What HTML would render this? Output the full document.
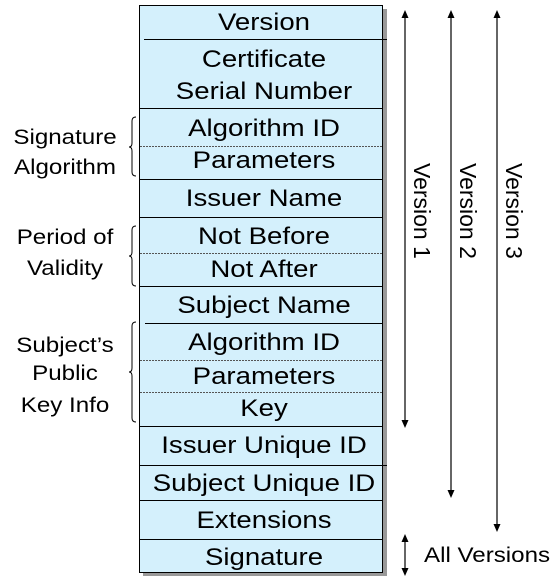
<!DOCTYPE html>
<html><head><meta charset="utf-8"><style>
html,body{margin:0;padding:0;background:#fff;}
svg{display:block;}
text{font-family:"Liberation Sans",Arial,sans-serif;fill:#000;}
</style></head><body>
<svg width="558" height="578" viewBox="0 0 558 578" xmlns="http://www.w3.org/2000/svg">
<rect x="143" y="9" width="244" height="567" fill="#999"/>
<rect x="139.5" y="5.5" width="243" height="567" fill="#d4f0fc" stroke="#000" stroke-width="1"/>
<g stroke="#000" stroke-width="1">
<line x1="144" y1="39.5" x2="387" y2="39.5"/>
<line x1="140" y1="108.5" x2="382" y2="108.5"/>
<line x1="140" y1="146.5" x2="382" y2="146.5" stroke-dasharray="2,1" stroke="#555"/>
<line x1="140" y1="179.5" x2="382" y2="179.5"/>
<line x1="140" y1="217.5" x2="382" y2="217.5"/>
<line x1="140" y1="253.5" x2="382" y2="253.5" stroke-dasharray="2,1" stroke="#555"/>
<line x1="140" y1="286.5" x2="382" y2="286.5"/>
<line x1="145" y1="323.5" x2="382" y2="323.5"/>
<line x1="140" y1="360.5" x2="382" y2="360.5" stroke-dasharray="2,1" stroke="#555"/>
<line x1="140" y1="392.5" x2="382" y2="392.5" stroke-dasharray="2,1" stroke="#555"/>
<line x1="140" y1="426.5" x2="382" y2="426.5"/>
<line x1="140" y1="465.5" x2="387" y2="465.5"/>
<line x1="140" y1="500.5" x2="382" y2="500.5"/>
<line x1="140" y1="539.5" x2="382" y2="539.5"/>
</g>
<g transform="translate(264,0) scale(1.15,1)" font-size="24" text-anchor="middle">
<text x="0" y="30">Version</text>
<text x="0" y="67">Certificate</text>
<text x="0" y="99">Serial Number</text>
<text x="0" y="136">Algorithm ID</text>
<text x="0" y="168">Parameters</text>
<text x="0" y="206">Issuer Name</text>
<text x="0" y="244">Not Before</text>
<text x="0" y="277">Not After</text>
<text x="0" y="313">Subject Name</text>
<text x="0" y="350">Algorithm ID</text>
<text x="0" y="384">Parameters</text>
<text x="0" y="416">Key</text>
<text x="0" y="453">Issuer Unique ID</text>
<text x="0" y="491">Subject Unique ID</text>
<text x="0" y="528">Extensions</text>
<text x="0" y="565">Signature</text>
</g>
<g transform="translate(65,0) scale(1.15,1)" font-size="21" text-anchor="middle">
<text x="0" y="144">Signature</text>
<text x="0" y="174">Algorithm</text>
<text x="0" y="244">Period of</text>
<text x="0" y="275">Validity</text>
<text x="0" y="352">Subject’s</text>
<text x="0" y="380">Public</text>
<text x="0" y="412">Key Info</text>
</g>
<g fill="none" stroke="#000" stroke-width="1">
<path d="M136,117 Q132,117 132,121 L132,143 Q132,147 129,147 Q132,147 132,151 L132,172 Q132,176 136,176"/>
<path d="M136,226 Q132,226 132,230 L132,252 Q132,256 129,256 Q132,256 132,260 L132,282 Q132,286 136,286"/>
<path d="M136,322 Q132,322 132,326 L132,368 Q132,372 129,372 Q132,372 132,376 L132,418 Q132,422 136,422"/>
</g>
<g stroke="#000" stroke-width="1.2">
<line x1="405" y1="16" x2="405" y2="422"/>
<line x1="451" y1="16" x2="451" y2="492"/>
<line x1="497" y1="16" x2="497" y2="526"/>
<line x1="405" y1="539" x2="405" y2="570"/>
</g>
<g fill="#000">
<path d="M401.5,18 L408.5,18 L405,10 Z"/>
<path d="M401.5,420 L408.5,420 L405,428 Z"/>
<path d="M447.5,18 L454.5,18 L451,10 Z"/>
<path d="M447.5,490 L454.5,490 L451,498 Z"/>
<path d="M493.5,18 L500.5,18 L497,10 Z"/>
<path d="M493.5,524 L500.5,524 L497,532 Z"/>
<path d="M401.5,542 L408.5,542 L405,534 Z"/>
<path d="M401.5,568 L408.5,568 L405,576 Z"/>
</g>
<g font-size="23">
<text transform="translate(414,163) rotate(90)">Version 1</text>
<text transform="translate(460,163) rotate(90)">Version 2</text>
<text transform="translate(506,163) rotate(90)">Version 3</text>
</g>
<g transform="translate(424,0) scale(1.15,1)"><text x="0" y="562" font-size="21">All Versions</text></g>
</svg>
</body></html>
